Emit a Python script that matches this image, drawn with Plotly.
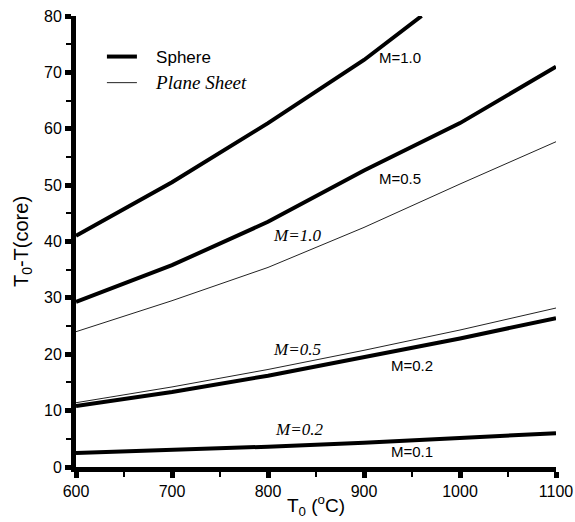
import plotly.graph_objects as go

# Data
T0 = [600, 700, 800, 900, 1000, 1100]
T0_sphere_m10 = [600, 700, 800, 900, 960]
sphere_m10 = [41.0, 50.5, 61.0, 72.2, 80.0]
sphere_m05 = [29.3, 35.8, 43.5, 52.6, 61.0, 71.0]
sphere_m02 = [10.8, 13.3, 16.2, 19.5, 22.8, 26.4]
sphere_m01 = [2.5, 3.0, 3.6, 4.3, 5.1, 6.0]
plane_m10 = [24.0, 29.5, 35.4, 42.5, 50.2, 57.7]
plane_m05 = [11.4, 14.2, 17.3, 20.7, 24.3, 28.2]

sphere_labels = ["M=1.0", "M=0.5", "M=0.2", "M=0.1"]
sphere_label_pos = [(937, 72.7), (938, 51.2), (950, 18.0), (950, 2.7)]
plane_labels = ["M=1.0", "M=0.5", "M=0.2"]
plane_label_pos = [(830, 41.0), (830, 20.9), (832, 6.6)]

fig = go.Figure()

sphere_sets = [(T0_sphere_m10, sphere_m10), (T0, sphere_m05), (T0, sphere_m02), (T0, sphere_m01)]
plane_sets = [(T0, plane_m10), (T0, plane_m05)]

pad = "&nbsp;" * 3
for i, (xs, ys) in enumerate(sphere_sets):
    fig.add_trace(go.Scatter(x=xs, y=ys, mode="lines",
                             line=dict(color="black", width=4),
                             name=pad + "Sphere", legendgroup="sphere",
                             showlegend=(i == 0)))
for i, (xs, ys) in enumerate(plane_sets):
    fig.add_trace(go.Scatter(x=xs, y=ys, mode="lines",
                             line=dict(color="#222222", width=1),
                             name=pad + '<span style="font-family:\'Liberation Serif\', serif; font-style:italic; font-size:19px">Plane Sheet</span>',
                             legendgroup="plane",
                             showlegend=(i == 0)))

for txt, (x, y) in zip(sphere_labels, sphere_label_pos):
    fig.add_annotation(x=x, y=y, text=txt, showarrow=False,
                       font=dict(family="Liberation Sans, Arial", size=15, color="black"))
for txt, (x, y) in zip(plane_labels, plane_label_pos):
    fig.add_annotation(x=x, y=y, text="<i>" + txt + "</i>", showarrow=False,
                       font=dict(family="Liberation Serif, Times New Roman", size=17, color="black"))

axis_common = dict(
    showline=True, linecolor="black", linewidth=5, mirror=False,
    showgrid=False, zeroline=False, automargin=False,
    ticks="outside", ticklen=6, tickwidth=5, tickcolor="black",
    tickfont=dict(family="Liberation Sans, Arial", size=16, color="black"),
)

fig.update_xaxes(range=[600, 1100], dtick=100, tick0=600,
                 minor=dict(ticks="outside", ticklen=5, tickwidth=1.5, dtick=50, tickcolor="black"),
                 title=dict(text="T<sub>0</sub> (<sup>o</sup>C)",
                            font=dict(family="Liberation Sans, Arial", size=19, color="black"),
                            standoff=1),
                 **axis_common)
fig.update_yaxes(range=[0, 80], dtick=10, tick0=0,
                 minor=dict(ticks="outside", ticklen=5, tickwidth=1.5, dtick=5, tickcolor="black"),
                 title=dict(text="T<sub>0</sub>-T(core)",
                            font=dict(family="Liberation Sans, Arial", size=20, color="black"),
                            standoff=12),
                 **axis_common)

fig.update_layout(
    width=575, height=522,
    margin=dict(l=76, r=19, t=16, b=55),
    plot_bgcolor="white", paper_bgcolor="white",
    showlegend=True,
    legend=dict(x=0.054, y=0.949, xanchor="left", yanchor="top",
                bgcolor="rgba(0,0,0,0)", tracegroupgap=1,
                font=dict(family="Liberation Sans, Arial", size=17, color="black")),
)

fig.write_html("out.html")
